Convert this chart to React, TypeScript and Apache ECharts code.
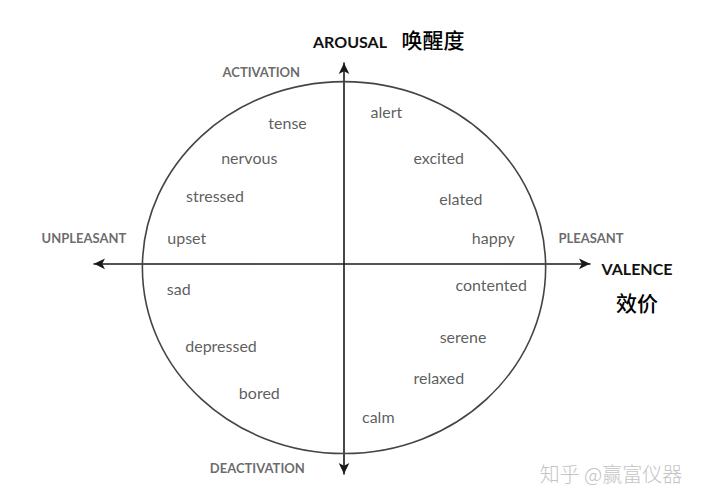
import React, { useEffect, useRef } from "react";
import * as echarts from "echarts";

// Valence (x) / arousal (y) coordinates of each affect word
const words = [
  "tense", "nervous", "stressed", "upset", "sad", "depressed", "bored",
  "calm", "relaxed", "serene", "contented", "happy", "elated", "excited", "alert",
];
const valence = [-0.28, -0.47, -0.64, -0.78, -0.82, -0.61, -0.42, 0.17, 0.47, 0.59, 0.73, 0.74, 0.58, 0.47, 0.21];
const arousal = [0.76, 0.57, 0.37, 0.14, -0.13, -0.44, -0.69, -0.82, -0.61, -0.39, -0.11, 0.14, 0.35, 0.57, 0.82];

// Pole labels
const poles = ["ACTIVATION", "DEACTIVATION", "UNPLEASANT", "PLEASANT"];
const poleX = [-0.41, -0.43, -1.29, 1.225];
const poleY = [1.03, -1.10, 0.14, 0.14];

// Circle: center and radii in data units
const circle = [[0, -0.02, 1, 1]];

const xRange = [-1.24, 1.22];
const yRange = [-1.13, 1.08];

export default function App() {
  const ref = useRef<HTMLDivElement>(null);
  useEffect(() => {
    if (!ref.current) return;
    const chart = echarts.init(ref.current, undefined, { renderer: "svg" });
    const axisLine = {
      show: true,
      onZero: true,
      symbol: ["arrow", "arrow"],
      symbolSize: [8, 11],
      lineStyle: { color: "#1a1a1a", width: 1.6 },
    };
    chart.setOption({
      animation: false,
      backgroundColor: "#ffffff",
      grid: { left: 94, right: 130, top: 63, bottom: 30 },
      xAxis: {
        type: "value",
        min: xRange[0],
        max: xRange[1],
        axisLine,
        axisTick: { show: false },
        axisLabel: { show: false },
        splitLine: { show: false },
      },
      yAxis: {
        type: "value",
        min: yRange[0],
        max: yRange[1],
        axisLine,
        axisTick: { show: false },
        axisLabel: { show: false },
        splitLine: { show: false },
      },
      series: [
        {
          type: "custom",
          z: 1,
          clip: false,
          data: circle,
          encode: { x: 0, y: 1 },
          renderItem: (params: any, api: any) => {
            const c = api.coord([api.value(0), api.value(1)]);
            const e = api.coord([api.value(0) + api.value(2), api.value(1) + api.value(3)]);
            return {
              type: "ellipse",
              shape: { cx: c[0], cy: c[1], rx: e[0] - c[0], ry: c[1] - e[1] },
              style: { fill: "none", stroke: "#444", lineWidth: 1.6 },
            };
          },
        },
        {
          type: "scatter",
          symbolSize: 0,
          clip: false,
          data: words.map((w, i) => ({ name: w, value: [valence[i], arousal[i]] })),
          label: {
            show: true,
            position: "inside",
            formatter: "{b}",
            fontFamily: "Lato",
            fontSize: 16,
            color: "#333",
          },
        },
        {
          type: "scatter",
          symbolSize: 0,
          clip: false,
          data: poles.map((p, i) => ({ name: p, value: [poleX[i], poleY[i]] })),
          label: {
            show: true,
            position: "inside",
            formatter: "{b}",
            fontFamily: "Lato",
            fontWeight: "bold",
            fontSize: 13,
            color: "#444",
          },
        },
      ],
      graphic: [
        {
          type: "text",
          x: 350,
          y: 41,
          style: { text: "AROUSAL", font: "bold 16px Lato", fill: "#111", align: "center", verticalAlign: "middle" },
        },
        {
          type: "text",
          x: 433,
          y: 39,
          style: { text: "唤醒度", font: "500 21px 'Noto Sans CJK SC'", fill: "#000", align: "center", verticalAlign: "middle" },
        },
        {
          type: "text",
          x: 637,
          y: 268,
          style: { text: "VALENCE", font: "bold 16px Lato", fill: "#111", align: "center", verticalAlign: "middle" },
        },
        {
          type: "text",
          x: 637,
          y: 302,
          style: { text: "效价", font: "500 21px 'Noto Sans CJK SC'", fill: "#000", align: "center", verticalAlign: "middle" },
        },
        {
          type: "text",
          x: 611,
          y: 473,
          style: { text: "知乎 @赢富仪器", font: "300 20px 'Noto Sans CJK SC'", fill: "#c4c4c4", align: "center", verticalAlign: "middle" },
        },
      ],
    });
    return () => chart.dispose();
  }, []);
  return (
    <div
      ref={ref}
      style={{ position: "fixed", left: 0, top: 0, width: 720, height: 504, background: "#fff" }}
    />
  );
}
